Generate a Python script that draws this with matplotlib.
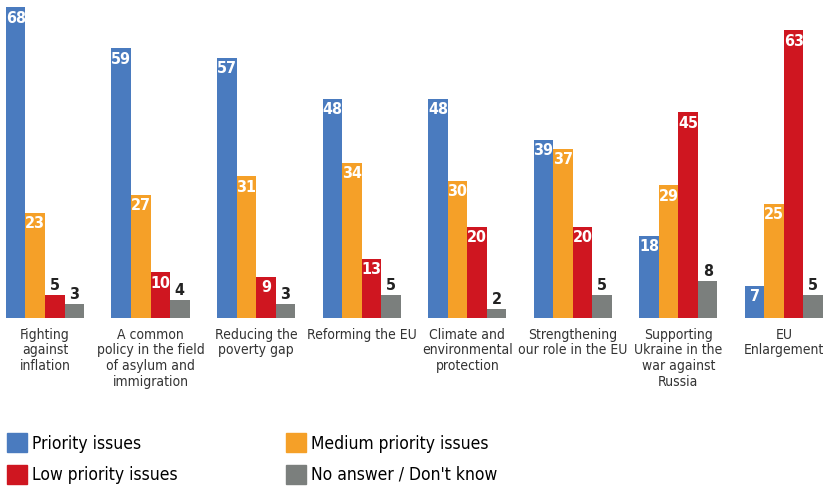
import matplotlib
import matplotlib.pyplot as plt
import numpy as np
from matplotlib import font_manager
from matplotlib.patches import Patch

matplotlib.use('Agg')

categories = [
    "Fighting\nagainst\ninflation",
    "A common\npolicy in the field\nof asylum and\nimmigration",
    "Reducing the\npoverty gap",
    "Reforming the EU",
    "Climate and\nenvironmental\nprotection",
    "Strengthening\nour role in the EU",
    "Supporting\nUkraine in the\nwar against\nRussia",
    "EU\nEnlargement",
]
priority = [68, 59, 57, 48, 48, 39, 18, 7]
medium = [23, 27, 31, 34, 30, 37, 29, 25]
low = [5, 10, 9, 13, 20, 20, 45, 63]
no_answer = [3, 4, 3, 5, 2, 5, 8, 5]

series_names = ["Priority issues", "Medium priority issues",
                "Low priority issues", "No answer / Don't know"]
colors = ["#4a7bbf", "#f5a028", "#cf1620", "#7b7f7d"]


def pick_font(candidates, size, weight='normal'):
    # look for a narrow face on disk, fall back to plain DejaVu
    files = font_manager.findSystemFonts()
    for name in candidates:
        for f in files:
            if f.split('/')[-1].lower() == name.lower():
                return font_manager.FontProperties(fname=f, size=size)
    return font_manager.FontProperties(family='DejaVu Sans', size=size, weight=weight)


cat_font = pick_font(["LiberationSansNarrow-Regular.ttf", "DejaVuSansCondensed.ttf"], 10)
val_font = pick_font(["LiberationSansNarrow-Bold.ttf", "DejaVuSansCondensed-Bold.ttf"],
                     11.5, 'bold')
leg_font = pick_font(["DejaVuSansCondensed.ttf", "LiberationSansNarrow-Regular.ttf"], 12.5)

fig = plt.figure(figsize=(8.25, 4.9), dpi=100)
ax = fig.add_axes([0, 1 - 318 / 490, 1, 318 / 490])

x = np.arange(len(categories))
w = 0.185
series = [priority, medium, low, no_answer]
for k, (vals, col) in enumerate(zip(series, colors)):
    pos = x + (k - 1.5) * w
    ax.bar(pos, vals, width=w, color=col, linewidth=0)
    for px, v in zip(pos, vals):
        if k != 3 and v >= 7:
            ax.annotate(str(v), (px, v), xytext=(0, -2.5), textcoords='offset points',
                        ha='center', va='top', color='white', fontproperties=val_font)
        else:
            ax.annotate(str(v), (px, v), xytext=(0, 1.5), textcoords='offset points',
                        ha='center', va='bottom', color='#222222', fontproperties=val_font)

ax.set_xlim(-0.426, -0.426 + 825 / 105.57)
ax.set_ylim(0, 69.6)
ax.axis('off')

for xi, label in zip(x, categories):
    ax.annotate(label, (xi, 0), xytext=(0, -7), textcoords='offset points',
                ha='center', va='top', color='#333333',
                fontproperties=cat_font, linespacing=1.15)

handles = [Patch(color=colors[i]) for i in [0, 2, 1, 3]]
labels = [series_names[i] for i in [0, 2, 1, 3]]
fig.legend(handles, labels, loc='upper left', bbox_to_anchor=(0.0, 0.13),
           ncol=2, frameon=False, prop=leg_font, handlelength=1.15, handleheight=1.3,
           handletextpad=0.3, columnspacing=6.25, labelspacing=0.7,
           borderaxespad=0, borderpad=0.4)

fig.savefig('out.png', dpi=100)
